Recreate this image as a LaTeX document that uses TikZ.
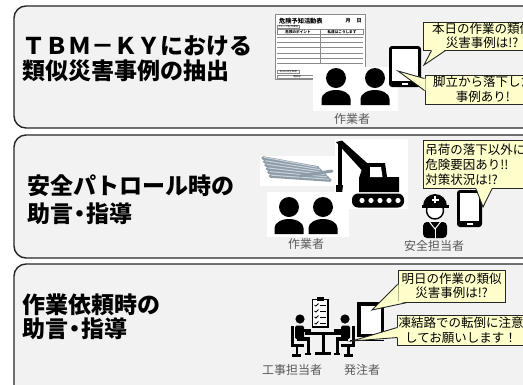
\documentclass[tikz,border=0pt]{standalone}
\usepackage{fontspec}
\setmainfont{Noto Sans CJK JP}
\usetikzlibrary{calc}
\definecolor{panelgray}{HTML}{F2F2F2}
\definecolor{notefill}{HTML}{FFFFCC}
\definecolor{labelgray}{HTML}{595959}
\definecolor{pipegray}{HTML}{8E9CA8}
\definecolor{pipelight}{HTML}{C9D3DB}
\definecolor{formline}{HTML}{8A8A8A}

% narrow middle dot
\newcommand\nakaguro{\kern-0.22em・\kern-0.22em}

% two-person silhouette: head centre (#1,#2)
\newcommand\workerfig[2]{%
  \fill (#1,#2) circle (10);
  \fill ({#1-14.5},{#2+27}) -- ({#1-14.5},{#2+21})
        arc[start angle=180, end angle=360, x radius=14.5, y radius=9]
        -- ({#1+14.5},{#2+27}) -- cycle;}

% tablet: corners (#1,#2) and (#3,#4)
\newcommand\drawtablet[4]{%
  \fill[rounded corners=3] (#1,#2) rectangle (#3,#4);
  \fill[white] ({#1+3},{#2+3}) rectangle ({#3-3},{#4-6});
  \fill[white] ({(#1+#3)/2-3},{#4-3.6}) rectangle ({(#1+#3)/2+3},{#4-2.4});}

% seated person at a table (left one; the right one is mirrored)
\newcommand\seatedfig{%
  \fill (300,319) circle (4.6);
  \fill[rounded corners=1.5] (295,325.5) rectangle (304,339);
  \fill (302,328.5) rectangle (311,331.5);
  \fill (297,337) rectangle (309,341);
  \fill (306.5,337) rectangle (309.5,354);
  \fill (305,352.5) rectangle (311,355);
  \fill (290.5,326) rectangle (293.5,347);
  \fill (290.5,344) rectangle (304,347);
  \fill (295.5,347) rectangle (298,356);
  \fill (292,354) rectangle (301,356.5);}

\begin{document}
\begin{tikzpicture}[x=1pt, y=-1pt,
  panel/.style={draw=black!85, line width=1.4pt, fill=panelgray, rounded corners=12pt},
  heading/.style={anchor=west, align=left, inner sep=0pt,
    font=\bfseries\fontsize{23}{#1}\selectfont},
  callout/.style={draw=black!85, line width=0.9pt, fill=notefill, inner sep=1pt,
    align=center, font=\fontsize{12.5}{14.5}\selectfont},
  tailline/.style={draw=black!85, line width=0.9pt, line join=miter},
  lbl/.style={text=labelgray, inner sep=0pt, font=\fontsize{12}{14}\selectfont},
  tiny/.style={inner sep=0pt, font=\fontsize{3}{3.5}\selectfont},
  formrule/.style={draw=formline, line width=0.5pt},
  photo/.style={fill=white, draw=none}]

\useasboundingbox (0,0) rectangle (523,384);
\fill[white] (0,0) rectangle (523,384);

% ---------- three panels ----------
\draw[panel] (14,6)   rectangle (560,128);
\draw[panel] (14,135) rectangle (560,258);
\draw[panel] (14,264) rectangle (560,400);

\node[heading=25] (h1) at (22,58.5) {ＴＢＭ－ＫＹにおける\\類似災害事例の抽出};
\node[heading=28] (h2) at (27,200)  {安全パトロール時の\\助言\nakaguro 指導};
\node[heading=24] (h3) at (22,316.5){作業依頼時の\\助言\nakaguro 指導};

% ---------- panel 1: KY sheet, workers, tablet ----------
\node[draw=formline, fill=white, line width=0.6pt, minimum width=90, minimum height=65,
      inner sep=0pt, anchor=north west] (form) at (275,14) {};
\node[inner sep=0pt, anchor=west, font=\bfseries\fontsize{6.2}{7}\selectfont] (formtitle)
      at (279,21) {危険予知活動表};
\node[inner sep=0pt, font=\bfseries\fontsize{5}{6}\selectfont] (formmonth) at (348,21) {月};
\node[inner sep=0pt, font=\bfseries\fontsize{5}{6}\selectfont] (formday) at (359,21) {日};
\node[formrule, draw, minimum width=22, minimum height=3.6, inner sep=0pt, anchor=north west,
      font=\fontsize{2.4}{3}\selectfont] (formgroup) at (277,24.5) {グループ名/作業名};
\draw[formrule] (277,29) rectangle (363,34.5);
\node[tiny, font=\bfseries\fontsize{3.6}{4}\selectfont] (colA) at (298,31.8) {危険のポイント};
\node[tiny, font=\bfseries\fontsize{3.6}{4}\selectfont] (colB) at (342,31.8) {私達はこうします};
\draw[formrule] (320,29) -- (320,63.5);
\foreach \yy in {37,42.3,47.6,52.8,58.2,63.5}
  \draw[formrule] (277,\yy) -- (363,\yy);
\node[formrule, draw, minimum width=22, minimum height=3.6, inner sep=0pt, anchor=north west,
      font=\fontsize{2.4}{3}\selectfont] (formgoal) at (277,69.5) {本日の安全目標};
\node[formrule, draw, minimum width=40, minimum height=3.6, inner sep=0pt, anchor=north west,
      font=\fontsize{2.4}{3}\selectfont] (formcheck) at (277,74.5) {確認者\hspace{26pt}};

\fill[photo] (313,67) rectangle (398,111);
\workerfig{336}{78}
\workerfig{375}{78}
\node[lbl] (w1) at (352,118.5) {作業者};

\drawtablet{389}{46}{421}{87}

\node[callout, minimum width=118, minimum height=28] (c1) at (482,36)
  {本日の作業の類似\\災害事例は!?};
\node[callout, minimum width=116, minimum height=29] (c2) at (483,89.5)
  {脚立から落下した\\事例あり!};

\coordinate (tip1) at (424,65);
\fill[notefill] ($(c1.south west)+(9,-1)$) -- (tip1) -- ($(c1.south west)+(23,-1)$) -- cycle;
\draw[tailline] ($(c1.south west)+(9,0)$) -- (tip1) -- ($(c1.south west)+(23,0)$);

\coordinate (tip2) at (398,71);
\fill[notefill] ($(c2.north west)+(1,4)$) -- (tip2) -- ($(c2.north west)+(1,16)$) -- cycle;
\draw[tailline] ($(c2.north west)+(0,4)$) -- (tip2) -- ($(c2.north west)+(0,16)$);

% ---------- panel 2: materials, crane, workers, safety officer ----------
\fill[photo] (260,156) rectangle (335,186);
\foreach \k in {0,1,2,3,4,5} {
  \draw[pipegray, line width=3.6pt, line cap=round]
    ({263+1.5*\k},{158+3.6*\k}) -- ({318+2.4*\k},{168+2.4*\k});
  \draw[pipelight, line width=1pt, line cap=round]
    ({264+1.5*\k},{157.2+3.6*\k}) -- ({317+2.4*\k},{167.2+2.4*\k});
}
\draw[pipegray, line width=3pt, line cap=round] (300,176) -- (332,171);

\fill[photo] (335,139) rectangle (408,209);
% crane boom, arm, bucket
\fill (336,142) -- (342,140.5) -- (376,171) -- (368,177) -- cycle;
\fill (337.5,143) rectangle (341.5,186);
\fill (336,185) -- (343,185) -- (342,194) -- (339,197) -- (336,192) -- cycle;
% crane cab and counterweight
\fill (364,163) -- (385,163) -- (387,177) -- (399,177) -- (399,192) -- (359,192) -- (359,178) -- cycle;
\fill[white] (370,167) -- (381,167) -- (382.5,177) -- (370,177) -- cycle;
% crane track
\fill[rounded corners=6] (352,193.5) rectangle (404,207.5);
\foreach \xx in {362,371,380,389,398}
  \fill[white] (\xx,200.5) circle (2.6);

\fill[photo] (267,192) rectangle (349,237);
\workerfig{289}{207}
\workerfig{323}{207}
\node[lbl] (w2) at (306,244) {作業者};

% safety officer with helmet
\draw[line width=1.4pt, fill=white] (435,210.5) circle (8.5);
\fill (423,206) arc[start angle=180, end angle=360, radius=12] -- cycle;
\fill (421.5,204.5) rectangle (448.5,208);
\fill[white] (434,196) rectangle (436,203);
\fill[white] (431.5,199) rectangle (438.5,201);
\fill[rounded corners=4] (423,238) -- (423,222) -- (447,222) -- (447,238) -- cycle;
\draw[white, line width=1pt] (429.5,222) -- (435,229) -- (440.5,222);
\draw[white, line width=0.8pt] (435,229) -- (435,238);
\node[lbl] (s2) at (434,246) {安全担当者};

\drawtablet{457}{190}{482}{227}

\node[callout, minimum width=124, minimum height=48, text width=120, align=left,
      anchor=north west, font=\fontsize{12.5}{15}\selectfont] (c3) at (423,140)
  {吊荷の落下以外にも\\危険要因あり!!\\対策状況は!?};
\coordinate (tip3) at (483,207);
\fill[notefill] ($(c3.south west)+(53,-1)$) -- (tip3) -- ($(c3.south west)+(69,-1)$) -- cycle;
\draw[tailline] ($(c3.south west)+(53,0)$) -- (tip3) -- ($(c3.south west)+(69,0)$);

% ---------- panel 3: meeting, tablet ----------
\draw[line width=1.3pt, fill=white] (312.5,299.5) rectangle (328,327);
\fill (317,297) rectangle (323.5,301);
\foreach \yy in {306,312,318,324} {
  \draw[line width=0.9pt] (314.5,\yy-1) -- (316,\yy) -- (318.5,\yy-2.5);
  \draw[line width=0.9pt] (320,\yy-1) -- (326,\yy-1);
}
\fill (305,332) rectangle (341,335);
\fill (321.5,335) rectangle (324.5,353);
\fill (315,352) rectangle (331,355);
\seatedfig
\begin{scope}[shift={(645,0)}, xscale=-1]
  \seatedfig
\end{scope}
\node[lbl] (k3) at (292,370) {工事担当者};
\node[lbl] (o3) at (362,370) {発注者};

\fill (357,302) rectangle (384,337);
\fill[white] (360.5,305.5) rectangle (380.5,333.5);
\draw[line width=0.8pt] (350,340) -- (384,340);

\node[callout, minimum width=107, minimum height=32] (c4) at (451.5,286)
  {明日の作業の類似\\災害事例は!?};
\node[callout, minimum width=126, minimum height=30] (c5) at (461,330)
  {凍結路での転倒に注意\\してお願いします！};

\coordinate (tip4) at (372,310);
\fill[notefill] ($(c4.south west)+(1,-18)$) -- (tip4) -- ($(c4.south west)+(10,-1)$) -- ($(c4.south west)+(1,-1)$) -- cycle;
\draw[tailline] ($(c4.south west)+(0,-18)$) -- (tip4) -- ($(c4.south west)+(10,0)$);

\coordinate (tip5) at (352,341);
\fill[notefill] ($(c5.north west)+(1,13)$) -- (tip5) -- ($(c5.north west)+(1,23)$) -- cycle;
\draw[tailline] ($(c5.north west)+(0,13)$) -- (tip5) -- ($(c5.north west)+(0,23)$);

\end{tikzpicture}
\end{document}
